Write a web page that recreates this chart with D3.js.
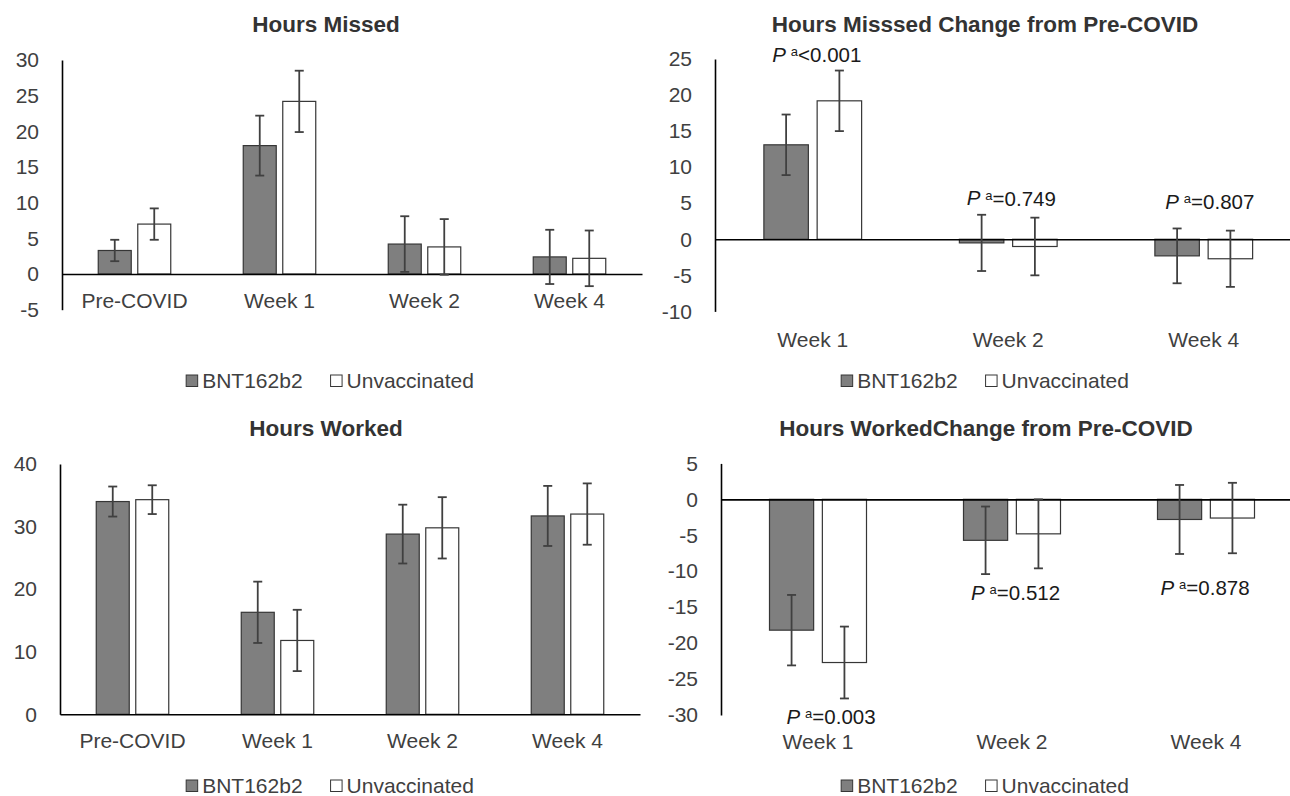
<!DOCTYPE html>
<html>
<head>
<meta charset="utf-8">
<script src="https://cdn.jsdelivr.net/npm/d3@7"></script>
<style>
  body { margin: 0; background: #fff; }
  svg { display: block; }
  text { font-family: "Liberation Sans", Arial, Helvetica, sans-serif; }
</style>
</head>
<body>
<svg id="chart" width="1290" height="796"></svg>
<script>
// ---- Data -------------------------------------------------------------
const seriesNames = ["BNT162b2", "Unvaccinated"];

// Hours missed (absolute)
const missedCategories = ["Pre-COVID", "Week 1", "Week 2", "Week 4"];
const missedBNT = [3.3, 18.0, 4.2, 2.4];
const missedBNTErr = [1.5, 4.2, 3.9, 3.8];
const missedUnvax = [7.0, 24.2, 3.8, 2.2];
const missedUnvaxErr = [2.2, 4.3, 3.9, 3.9];
const missedTicks = [-5, 0, 5, 10, 15, 20, 25, 30];

// Hours missed, change from pre-COVID
const changeCategories = ["Week 1", "Week 2", "Week 4"];
const missedChangeBNT = [13.1, -0.5, -2.3];
const missedChangeBNTErr = [4.2, 3.9, 3.8];
const missedChangeUnvax = [19.2, -1.0, -2.7];
const missedChangeUnvaxErr = [4.2, 4.0, 3.9];
const missedChangeP = ["<0.001", "=0.749", "=0.807"];
const missedChangeTicks = [-10, -5, 0, 5, 10, 15, 20, 25];

// Hours worked (absolute)
const workedCategories = ["Pre-COVID", "Week 1", "Week 2", "Week 4"];
const workedBNT = [34.0, 16.3, 28.8, 31.7];
const workedBNTErr = [2.4, 4.9, 4.7, 4.8];
const workedUnvax = [34.3, 11.8, 29.8, 32.0];
const workedUnvaxErr = [2.3, 4.9, 4.9, 4.9];
const workedTicks = [0, 10, 20, 30, 40];

// Hours worked, change from pre-COVID
const workedChangeBNT = [-18.2, -5.7, -2.8];
const workedChangeBNTErr = [4.9, 4.7, 4.8];
const workedChangeUnvax = [-22.7, -4.8, -2.6];
const workedChangeUnvaxErr = [5.0, 4.8, 4.9];
const workedChangeP = ["=0.003", "=0.512", "=0.878"];
const workedChangeTicks = [-30, -25, -20, -15, -10, -5, 0, 5];

// ---- Styling ----------------------------------------------------------
const fills = { "BNT162b2": "#7f7f7f", "Unvaccinated": "#ffffff" };
const barStroke = "#363636";
const errColor = "#404040";
const textColor = "#404040";
const fontFamily = '"Liberation Sans", Arial, sans-serif';

const svg = d3.select("#chart");

function drawPanel(p) {
  const g = svg.append("g");
  const x = d3.scaleBand().domain(p.categories).range(p.xRange).padding(0);
  const bw = x.bandwidth();
  const inner = d3.scaleBand().domain(seriesNames)
    .range([bw * 0.25, bw * 0.75]).paddingInner(0.165);
  const y = d3.scaleLinear().domain(p.yDomain).range(p.yRange);

  // rows: one per category/series
  const rows = [];
  p.categories.forEach((c, i) => {
    rows.push({ cat: c, s: "BNT162b2", v: p.bnt[i], e: p.bntErr[i] });
    rows.push({ cat: c, s: "Unvaccinated", v: p.unvax[i], e: p.unvaxErr[i] });
  });

  // bars
  g.append("g").selectAll("rect").data(rows).join("rect")
    .attr("x", d => x(d.cat) + inner(d.s))
    .attr("width", inner.bandwidth())
    .attr("y", d => Math.min(y(0), y(d.v)))
    .attr("height", d => Math.abs(y(d.v) - y(0)))
    .attr("fill", d => fills[d.s])
    .attr("stroke", barStroke)
    .attr("stroke-width", 1.2);

  // zero / category axis
  const xAxis = d3.axisBottom(x).tickSize(0).tickPadding(0);
  const xa = g.append("g").attr("transform", `translate(0,${y(0)})`).call(xAxis);
  xa.select(".domain").attr("stroke", "#000").attr("stroke-width", 1.6);
  xa.selectAll(".tick text")
    .attr("y", p.labelY - y(0)).attr("dy", "0.35em")
    .attr("font-size", 21).attr("fill", textColor)
    .attr("font-family", fontFamily);

  // value axis
  const yAxis = d3.axisLeft(y).tickValues(p.ticks).tickSize(0).tickPadding(23)
    .tickFormat(d3.format("d"));
  const ya = g.append("g").attr("transform", `translate(${p.xRange[0]},0)`).call(yAxis);
  ya.select(".domain").attr("stroke", "#000").attr("stroke-width", 1.6);
  ya.selectAll(".tick text")
    .attr("font-size", 21).attr("fill", textColor)
    .attr("font-family", fontFamily)
    .text(d => d < 0 ? "-" + Math.abs(d) : d);

  // error bars
  const cap = 4.5;
  const eg = g.append("g").attr("stroke", errColor).attr("stroke-width", 1.8).attr("fill", "none");
  rows.forEach(d => {
    const cx = x(d.cat) + inner(d.s) + inner.bandwidth() / 2;
    const y1 = y(d.v + d.e), y2 = y(d.v - d.e);
    eg.append("line").attr("x1", cx).attr("x2", cx).attr("y1", y1).attr("y2", y2);
    eg.append("line").attr("x1", cx - cap).attr("x2", cx + cap).attr("y1", y1).attr("y2", y1);
    eg.append("line").attr("x1", cx - cap).attr("x2", cx + cap).attr("y1", y2).attr("y2", y2);
  });

  // title
  g.append("text")
    .attr("x", p.titleX).attr("y", p.titleY).attr("dy", "0.35em")
    .attr("text-anchor", "middle")
    .attr("font-size", 22.5).attr("font-weight", "bold").attr("fill", "#333")
    .text(p.title);

  // p-value annotations
  if (p.pValues) {
    p.categories.forEach((c, i) => {
      const t = g.append("text")
        .attr("x", x(c) + bw / 2 + p.pDx[i])
        .attr("y", y(p.pAt[i])).attr("dy", "0.35em")
        .attr("text-anchor", "middle")
        .attr("font-size", 20.5).attr("fill", "#1a1a1a");
      t.append("tspan").attr("font-style", "italic").text("P");
      t.append("tspan").attr("font-size", 13).attr("dx", 5).attr("dy", "-0.45em").text("a");
      t.append("tspan").attr("font-size", 20.5).attr("dy", "0.3em").text(p.pValues[i]);
    });
  }

  // legend
  const lg = g.append("g");
  let cursor = 0;
  seriesNames.forEach((s, i) => {
    const item = lg.append("g");
    item.append("rect").attr("x", 0).attr("y", -6).attr("width", 11.5).attr("height", 11.5)
      .attr("fill", fills[s]).attr("stroke", barStroke).attr("stroke-width", 1);
    const tx = item.append("text").attr("x", 16).attr("y", 0).attr("dy", "0.35em")
      .attr("font-size", 21).attr("fill", textColor).text(s);
    const w = 16 + tx.node().getComputedTextLength();
    item.attr("transform", `translate(${cursor},0)`);
    cursor += w + (i === 0 ? 28 : 0);
  });
  lg.attr("transform", `translate(${p.legendCx - cursor / 2},${p.legendY})`);
}

drawPanel({
  title: "Hours Missed", titleX: 326, titleY: 24,
  categories: missedCategories, bnt: missedBNT, bntErr: missedBNTErr,
  unvax: missedUnvax, unvaxErr: missedUnvaxErr, ticks: missedTicks,
  xRange: [62, 642], yDomain: [-5, 30], yRange: [309.7, 60],
  labelY: 301, legendY: 381, legendCx: 330
});

drawPanel({
  title: "Hours Misssed Change from Pre-COVID", titleX: 985, titleY: 24,
  categories: changeCategories, bnt: missedChangeBNT, bntErr: missedChangeBNTErr,
  unvax: missedChangeUnvax, unvaxErr: missedChangeUnvaxErr, ticks: missedChangeTicks,
  xRange: [715, 1301.5], yDomain: [-10, 25], yRange: [311.4, 59],
  labelY: 340, legendY: 381, legendCx: 985,
  pValues: missedChangeP, pAt: [25.6, 5.7, 5.2], pDx: [4, 3, 6]
});

drawPanel({
  title: "Hours Worked", titleX: 326, titleY: 428,
  categories: workedCategories, bnt: workedBNT, bntErr: workedBNTErr,
  unvax: workedUnvax, unvaxErr: workedUnvaxErr, ticks: workedTicks,
  xRange: [60, 640], yDomain: [0, 40], yRange: [714.3, 464],
  labelY: 741, legendY: 786, legendCx: 330
});

drawPanel({
  title: "Hours WorkedChange from Pre-COVID", titleX: 986, titleY: 428,
  categories: changeCategories, bnt: workedChangeBNT, bntErr: workedChangeBNTErr,
  unvax: workedChangeUnvax, unvaxErr: workedChangeUnvaxErr, ticks: workedChangeTicks,
  xRange: [721, 1303], yDomain: [-30, 5], yRange: [715, 463.4],
  labelY: 742, legendY: 786, legendCx: 985,
  pValues: workedChangeP, pAt: [-30.2, -13.0, -12.3], pDx: [13, 3.5, -1]
});
</script>
</body>
</html>
